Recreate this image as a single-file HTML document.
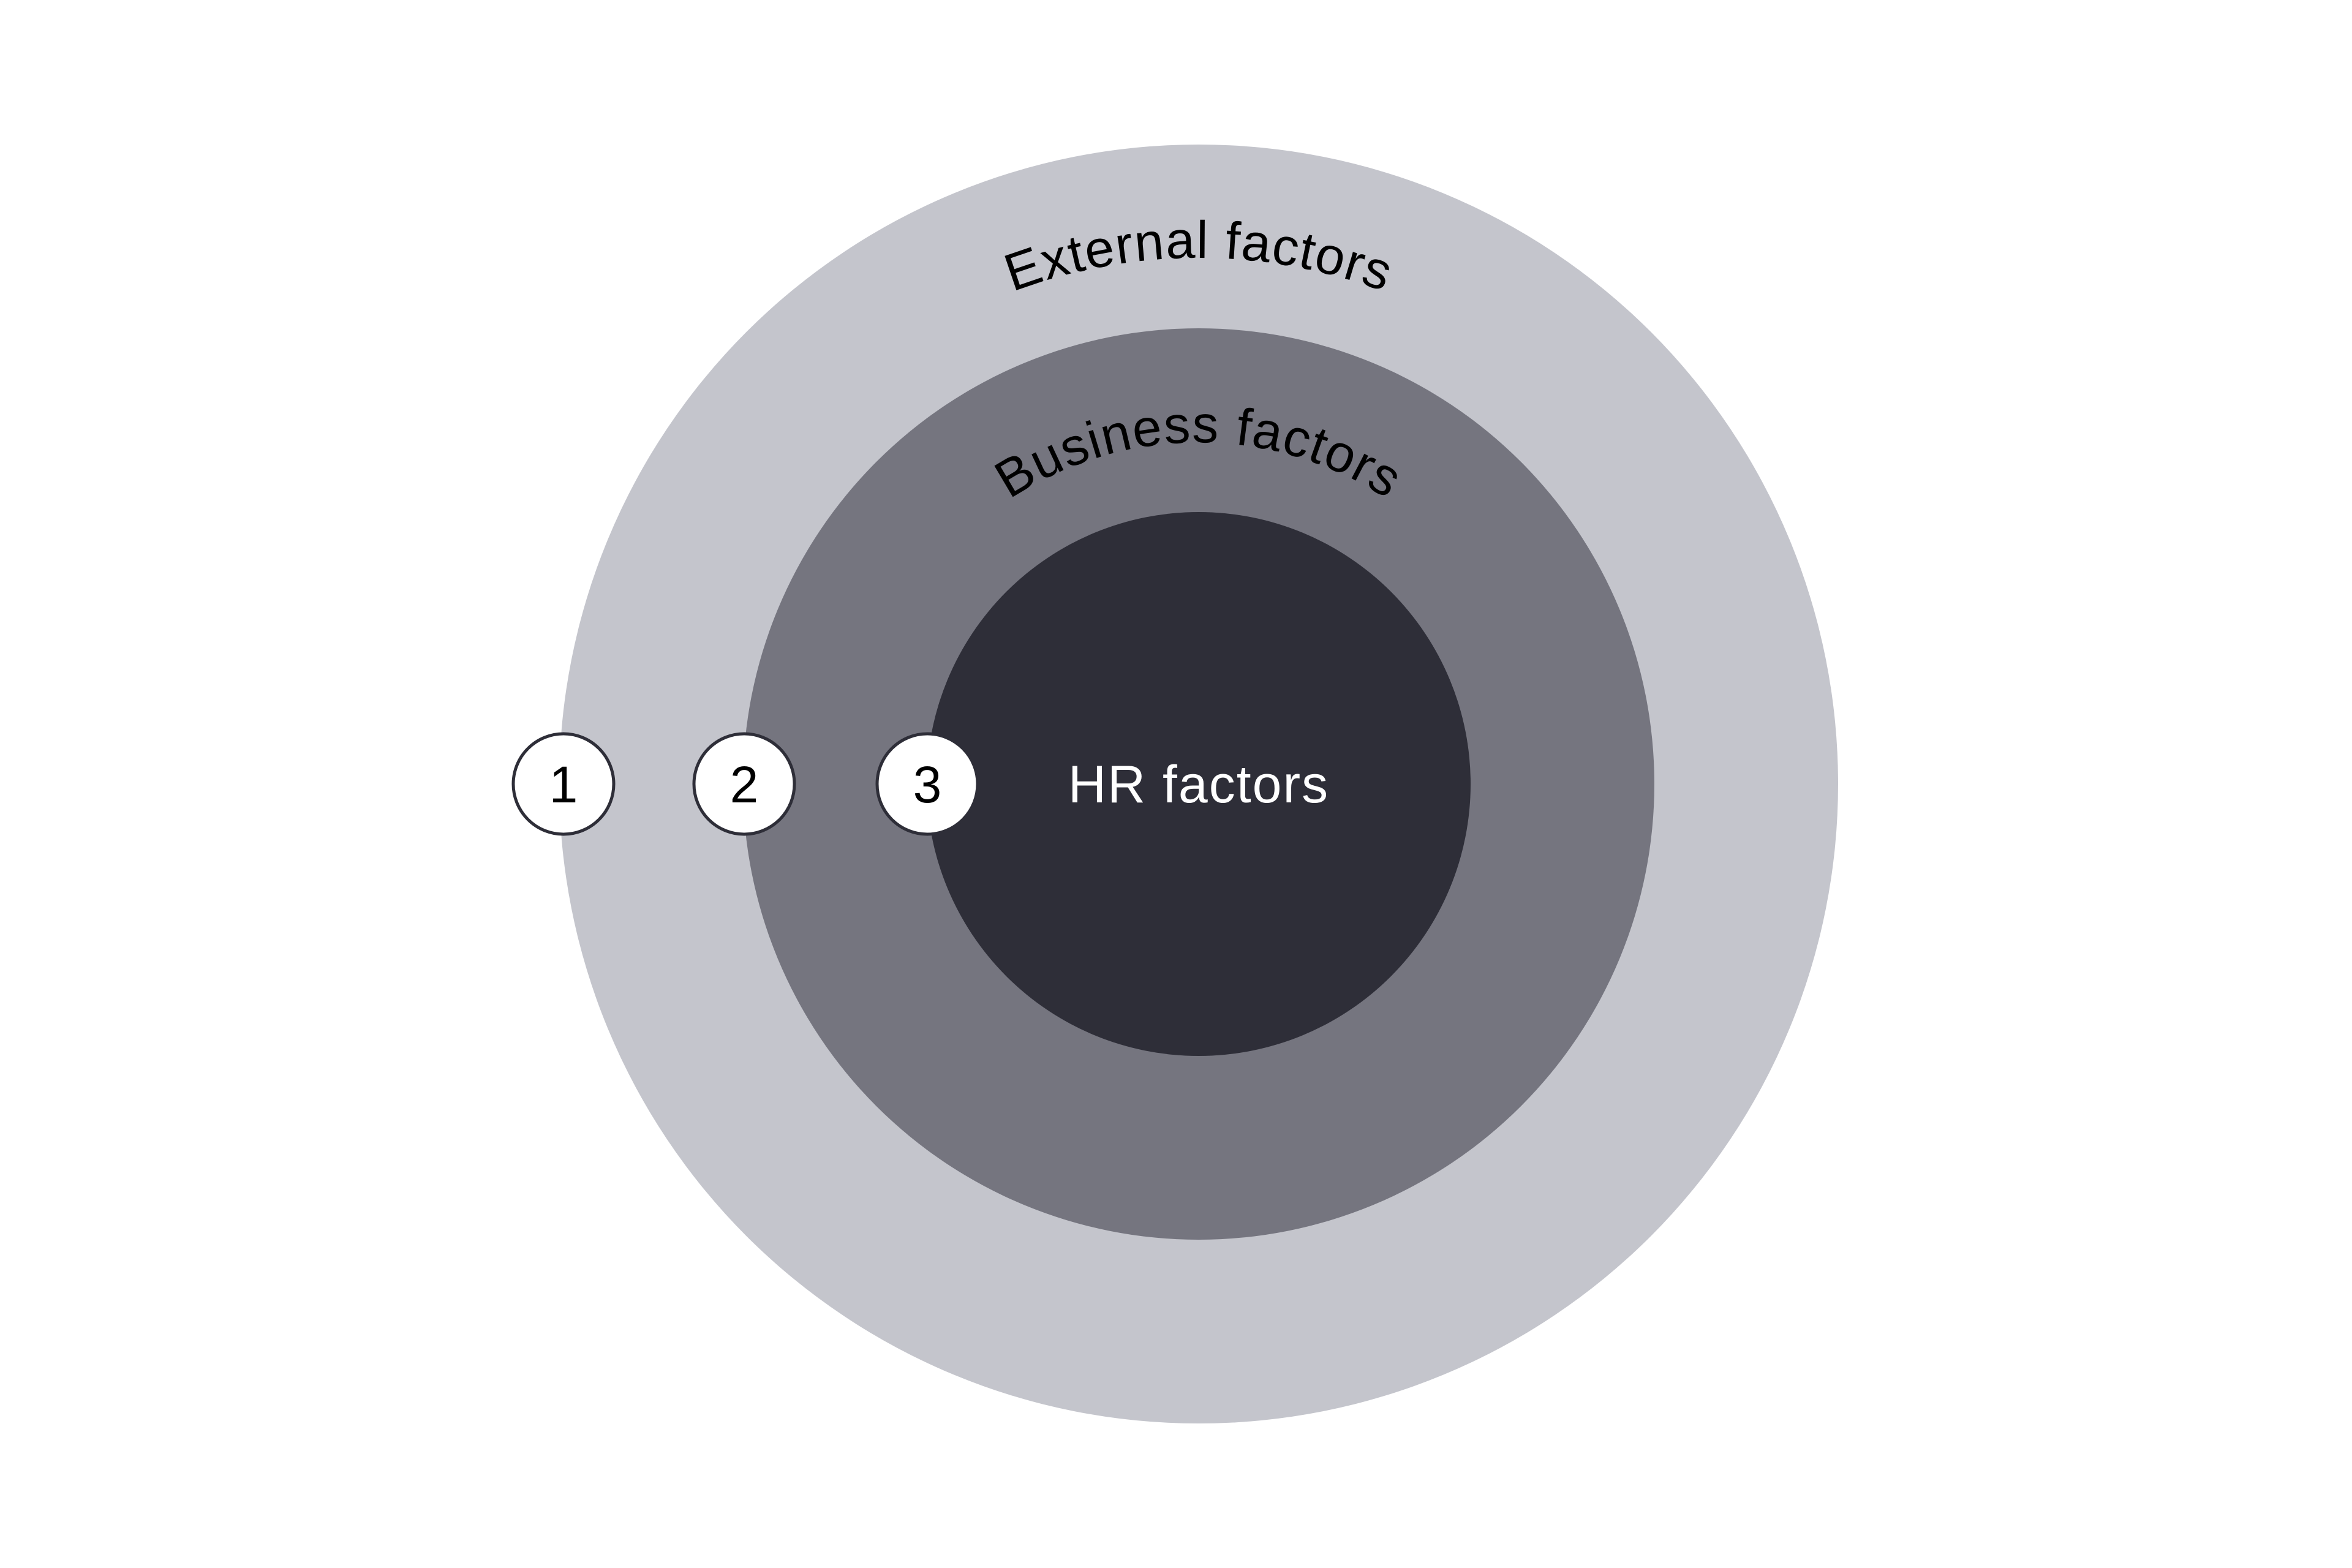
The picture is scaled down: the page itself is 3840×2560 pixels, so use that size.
<!DOCTYPE html>
<html><head><meta charset="utf-8"><style>html,body{margin:0;padding:0;background:#fff}svg{display:block}</style></head>
<body>
<svg width="3840" height="2560" viewBox="0 0 3840 2560" xmlns="http://www.w3.org/2000/svg">
<defs>
<path id="a1" d="M 1098 1280 A 859 859 0 0 1 2816 1280"/>
<path id="a2" d="M 1399 1280 A 558 558 0 0 1 2515 1280"/>
</defs>
<circle cx="1957" cy="1280" r="1044" fill="#c4c5cc"/>
<circle cx="1957" cy="1280" r="744" fill="#75757f"/>
<circle cx="1957" cy="1280" r="444" fill="#2e2e38"/>
<g font-family="Liberation Sans, sans-serif" font-size="86" fill="#000" letter-spacing="1.5">
<text text-anchor="middle"><textPath href="#a1" startOffset="50%">External factors</textPath></text>
<text text-anchor="middle"><textPath href="#a2" startOffset="50%">Business factors</textPath></text>
<text x="1957" y="1310" text-anchor="middle" fill="#fff" font-size="86" letter-spacing="2">HR factors</text>
</g>
<g fill="#fff" stroke="#2e2e38" stroke-width="5">
<circle cx="920" cy="1280" r="82"/>
<circle cx="1215" cy="1280" r="82"/>
<circle cx="1514" cy="1280" r="82"/>
</g>
<g font-family="Liberation Sans, sans-serif" font-size="84" fill="#000" text-anchor="middle">
<text x="920" y="1310">1</text>
<text x="1215" y="1310">2</text>
<text x="1514" y="1310">3</text>
</g>
</svg>
</body></html>
